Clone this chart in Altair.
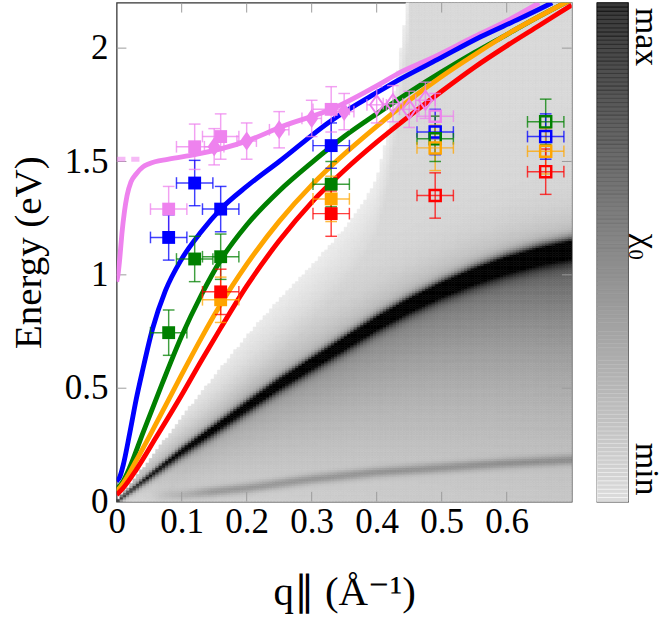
import altair as alt
import numpy as np
import pandas as pd

FONT = "Liberation Serif"
SERIES = ["violet", "blue", "green", "orange", "red"]
HEX = ["#EE82EE", "#0000FF", "#008000", "#FFA500", "#FF0000"]

# ---------------- dispersion curves (q in 1/A, E in eV) ----------------
violet_q = [0, 0.002, 0.005, 0.008, 0.012, 0.016, 0.022, 0.03, 0.04, 0.05, 0.08, 0.12, 0.2, 0.255, 0.33, 0.404, 0.434, 0.48, 0.55, 0.6, 0.65]
violet_E = [0.97, 1.0, 1.08, 1.18, 1.28, 1.35, 1.41, 1.445, 1.475, 1.49, 1.51, 1.53, 1.59, 1.655, 1.73, 1.84, 1.89, 1.95, 2.05, 2.12, 2.2]
blue_q = [0, 0.005, 0.01, 0.02, 0.03, 0.04, 0.055, 0.075, 0.1, 0.13, 0.16, 0.2, 0.25, 0.33, 0.404, 0.434, 0.494, 0.56, 0.62, 0.67]
blue_E = [0.09, 0.11, 0.16, 0.3, 0.45, 0.58, 0.76, 0.93, 1.07, 1.19, 1.29, 1.39, 1.5, 1.68, 1.81, 1.86, 1.95, 2.05, 2.13, 2.2]
green_q = [0, 0.01, 0.02, 0.04, 0.07, 0.1, 0.13, 0.16, 0.2, 0.25, 0.3, 0.35, 0.4, 0.45, 0.5, 0.55, 0.6, 0.65, 0.7]
green_E = [0.055, 0.09, 0.15, 0.3, 0.52, 0.73, 0.91, 1.065, 1.22, 1.37, 1.495, 1.61, 1.71, 1.805, 1.895, 1.98, 2.06, 2.14, 2.215]
orange_q = [0, 0.01, 0.03, 0.06, 0.1, 0.13, 0.16, 0.2, 0.25, 0.3, 0.33, 0.4, 0.45, 0.5, 0.55, 0.6, 0.65, 0.7]
orange_E = [0.045, 0.08, 0.18, 0.34, 0.56, 0.72, 0.87, 1.046, 1.236, 1.396, 1.48, 1.655, 1.77, 1.875, 1.97, 2.06, 2.14, 2.215]
red_q = [0, 0.01, 0.03, 0.06, 0.1, 0.13, 0.16, 0.2, 0.25, 0.3, 0.35, 0.4, 0.45, 0.5, 0.55, 0.6, 0.65, 0.7]
red_E = [0.03, 0.06, 0.14, 0.28, 0.47, 0.62, 0.765, 0.95, 1.15, 1.32, 1.46, 1.585, 1.70, 1.81, 1.915, 2.01, 2.1, 2.19]
violet_dash_q = [0.0, 0.035]
violet_dash_E = [1.51, 1.51]

# ---------------- measured points ----------------
sq_q = [0.08, 0.08, 0.08, 0.12, 0.12, 0.12, 0.16, 0.16, 0.16, 0.16, 0.16, 0.33, 0.33, 0.33, 0.33, 0.33]
sq_E = [1.29, 1.165, 0.745, 1.565, 1.405, 1.07, 1.61, 1.29, 1.08, 0.89, 0.925, 1.73, 1.57, 1.40, 1.335, 1.27]
sq_c = ["violet", "blue", "green", "violet", "blue", "green", "violet", "blue", "green", "orange", "red",
        "violet", "blue", "green", "orange", "red"]
osq_q = [0.49, 0.49, 0.49, 0.49, 0.49, 0.66, 0.66, 0.66, 0.66]
osq_E = [1.70, 1.63, 1.60, 1.56, 1.35, 1.675, 1.61, 1.545, 1.455]
osq_c = ["violet", "blue", "green", "orange", "red", "green", "blue", "orange", "red"]
sq_err_q = 0.028
sq_err_E = 0.1
dia_q = [0.15, 0.2, 0.25, 0.3, 0.35]
dia_E = [1.565, 1.59, 1.64, 1.69, 1.72]
odia_q = [0.40, 0.425, 0.45, 0.475]
odia_E = [1.75, 1.755, 1.73, 1.77]
dia_err_q = 0.015
dia_err_E = 0.08

# ---------------- chi_0 map features ----------------
ridge_q = [0, 0.05, 0.1, 0.15, 0.2, 0.25, 0.3, 0.35, 0.4, 0.45, 0.5, 0.55, 0.6, 0.65, 0.7]
ridge_E = [0, 0.11, 0.22, 0.32, 0.42, 0.52, 0.61, 0.70, 0.79, 0.87, 0.94, 1.00, 1.05, 1.09, 1.12]
ridge_w = [0.012, 0.022, 0.03, 0.034, 0.037, 0.04, 0.042, 0.044, 0.046, 0.048, 0.05, 0.053, 0.056, 0.058, 0.06]
ridge_amp = [0.3, 0.42, 0.5, 0.56, 0.6, 0.63, 0.66, 0.68, 0.68, 0.68, 0.66, 0.63, 0.6, 0.56, 0.52]
edge_q = [0, 0.05, 0.1, 0.15, 0.2, 0.25, 0.3, 0.35, 0.38, 0.4, 0.415, 0.43, 0.44, 0.45]
edge_E = [0, 0.18, 0.37, 0.55, 0.73, 0.89, 1.04, 1.2, 1.32, 1.42, 1.6, 1.85, 2.05, 2.25]
band_q = [0.1, 0.2, 0.3, 0.4, 0.5, 0.6, 0.7]
band_E = [0.03, 0.06, 0.1, 0.13, 0.15, 0.17, 0.185]

x_ticks = [0, 0.1, 0.2, 0.3, 0.4, 0.5, 0.6]
y_ticks = [0, 0.5, 1, 1.5, 2]
X_MAX, Y_MAX = 0.7, 2.2

# build map cells
dq, dE = 0.005, 0.01
cells = []
for i in range(int(round(X_MAX / dq))):
    q0 = i * dq
    qc = q0 + dq / 2
    Ee = float(np.interp(qc, edge_q, edge_E, right=99.0))
    r = float(np.interp(qc, ridge_q, ridge_E))
    s = float(np.interp(qc, ridge_q, ridge_w))
    A = float(np.interp(qc, ridge_q, ridge_amp))
    T = 0.14 + 0.6 * qc
    L = 0.45 * r + 0.04
    bE = float(np.interp(qc, band_q, band_E))
    bA = 0.2 * min(max((qc - 0.05) / 0.1, 0), 1)
    for j in range(int(round(Y_MAX / dE))):
        e0 = j * dE
        ec = e0 + dE / 2
        if ec > Ee:
            continue
        base = 0.07 + 0.08 * min(max((Ee - ec) / 0.25, 0), 1)
        d = ec - r
        if d >= 0:
            rid = A * np.exp(-(d / (0.75 * s)) ** 2) + 0.25 * np.exp(-d / 0.1) + T * np.exp(-(d / (0.6 * s)) ** 2)
        else:
            rid = A * np.exp(-(d / s) ** 2) + T * np.exp(d / L) + 0.25 * np.exp(d / (0.6 * s))
        band = bA * np.exp(-((ec - bE) / 0.022) ** 2)
        D = min(max(base + rid + band, 0), 1)
        cells.append((round(q0, 4), round(q0 + dq, 4), round(e0, 3), round(e0 + dE, 3), round(float(D), 3)))
heat_df = pd.DataFrame(cells, columns=["q0", "q1", "e0", "e1", "d"])

# ---------------- encodings ----------------
xs = alt.Scale(domain=[0, X_MAX], nice=False, zero=False)
ys = alt.Scale(domain=[0, Y_MAX], nice=False, zero=False)
XT = "q∥ (Å⁻¹)"
YT = "Energy (eV)"
xaxis = alt.Axis(values=x_ticks, format="~g", ticks=False, domain=False, grid=False, labelFlush=False,
                 labelFont=FONT, labelFontSize=36, labelColor="#000", labelPadding=4,
                 titleFont=FONT, titleFontSize=42, titleFontWeight="normal", titleColor="#000", titlePadding=34)
yaxis = alt.Axis(values=y_ticks, format="~g", ticks=False, domain=False, grid=False, labelFlush=False,
                 labelFont=FONT, labelFontSize=36, labelColor="#000", labelPadding=9,
                 titleFont=FONT, titleFontSize=40, titleFontWeight="normal", titleColor="#000", titlePadding=16)


def X(f):
    return alt.X(f, type="quantitative", scale=xs, axis=xaxis, title=XT)


def Y(f):
    return alt.Y(f, type="quantitative", scale=ys, axis=yaxis, title=YT)


cscale = alt.Scale(domain=SERIES, range=HEX)
gray = alt.Scale(domain=[0, 1], range=["#ffffff", "#000000"], interpolate="rgb")

heat = alt.Chart(heat_df).mark_rect(strokeWidth=0.6).encode(
    x=X("q0"), x2="q1", y=Y("e0"), y2="e1",
    color=alt.Color("d:Q", scale=gray, legend=None),
    stroke=alt.Stroke("d:Q", scale=gray, legend=None),
)

# inward ticks (pgfplots style)
tl_q = 10 / 668
tl_E = 10 / 232.5
tick_rows = []
for v in x_ticks[1:]:
    tick_rows.append((v, v, 0, tl_E))
    tick_rows.append((v, v, Y_MAX, Y_MAX - tl_E))
for v in y_ticks[1:]:
    tick_rows.append((0, tl_q, v, v))
    tick_rows.append((X_MAX, X_MAX - tl_q, v, v))
tick_df = pd.DataFrame(tick_rows, columns=["qa", "qb", "ea", "eb"])
ticks = alt.Chart(tick_df).mark_rule(color="#9a9a9a", strokeWidth=1).encode(
    x=X("qa"), x2="qb", y=Y("ea"), y2="eb")


def curve(qv, ev, col, **kw):
    df = pd.DataFrame({"q": qv, "E": ev})
    return alt.Chart(df).mark_line(color=col, strokeWidth=5, clip=True, interpolate="monotone", **kw).encode(
        x=X("q"), y=Y("E"), order="q:Q")


dash = curve(violet_dash_q, violet_dash_E, "#EE82EE", strokeDash=[9, 6], opacity=0.55)
c_violet = curve(violet_q, violet_E, "#EE82EE")
c_blue = curve(blue_q, blue_E, "#0000FF")
c_green = curve(green_q, green_E, "#008000")
c_orange = curve(orange_q, orange_E, "#FFA500")
c_red = curve(red_q, red_E, "#FF0000")

pts = pd.concat([
    pd.DataFrame({"q": sq_q, "E": sq_E, "c": sq_c, "kind": "sq", "eq": sq_err_q, "eE": sq_err_E}),
    pd.DataFrame({"q": osq_q, "E": osq_E, "c": osq_c, "kind": "osq", "eq": sq_err_q, "eE": sq_err_E}),
    pd.DataFrame({"q": dia_q, "E": dia_E, "c": "violet", "kind": "dia", "eq": dia_err_q, "eE": dia_err_E}),
    pd.DataFrame({"q": odia_q, "E": odia_E, "c": "violet", "kind": "odia", "eq": dia_err_q, "eE": dia_err_E}),
], ignore_index=True)
pts["qlo"] = pts["q"] - pts["eq"]
pts["qhi"] = pts["q"] + pts["eq"]
pts["Elo"] = pts["E"] - pts["eE"]
pts["Ehi"] = pts["E"] + pts["eE"]

base_pts = alt.Chart(pts)
col = alt.Color("c:N", scale=cscale, legend=None)
ebar_v = base_pts.mark_rule(strokeWidth=1.5, opacity=0.75).encode(x=X("q"), y=Y("Elo"), y2="Ehi", color=col)
ebar_h = base_pts.mark_rule(strokeWidth=1.5, opacity=0.75).encode(x=X("qlo"), x2="qhi", y=Y("E"), color=col)
cap_lo = base_pts.mark_tick(orient="horizontal", size=12, thickness=1.5, opacity=0.75).encode(x=X("q"), y=Y("Elo"), color=col)
cap_hi = base_pts.mark_tick(orient="horizontal", size=12, thickness=1.5, opacity=0.75).encode(x=X("q"), y=Y("Ehi"), color=col)
cap_l = base_pts.mark_tick(orient="vertical", size=12, thickness=1.5, opacity=0.75).encode(x=X("qlo"), y=Y("E"), color=col)
cap_r = base_pts.mark_tick(orient="vertical", size=12, thickness=1.5, opacity=0.75).encode(x=X("qhi"), y=Y("E"), color=col)

DIAMOND = "M0,-1L0.7,0L0,1L-0.7,0Z"
m_sq = base_pts.transform_filter(alt.datum.kind == "sq").mark_point(
    shape="square", filled=True, size=175, opacity=1).encode(x=X("q"), y=Y("E"), color=col)
m_osq = base_pts.transform_filter(alt.datum.kind == "osq").mark_point(
    shape="square", filled=False, size=130, strokeWidth=2.5, opacity=1).encode(x=X("q"), y=Y("E"), color=col)
m_dia = base_pts.transform_filter(alt.datum.kind == "dia").mark_point(
    shape=DIAMOND, filled=True, size=380, opacity=1).encode(x=X("q"), y=Y("E"), color=col)
m_odia = base_pts.transform_filter(alt.datum.kind == "odia").mark_point(
    shape=DIAMOND, filled=False, size=380, strokeWidth=2, opacity=1).encode(x=X("q"), y=Y("E"), color=col)

main = alt.layer(
    heat, ticks, dash, c_violet, c_blue, c_green, c_orange, c_red,
    ebar_v, ebar_h, cap_lo, cap_hi, cap_l, cap_r, m_dia, m_odia, m_sq, m_osq
).properties(width=468, height=513)

# ---------------- colour bar ----------------
cb_levels = np.linspace(0, 1, 121)
cb_df = pd.DataFrame({"v0": cb_levels[:-1], "v1": cb_levels[1:], "v": (cb_levels[:-1] + cb_levels[1:]) / 2})
cb_scale = alt.Scale(domain=[0, 1], range=["#dcdcdc", "#383838"], interpolate="rgb")
cbx = alt.Scale(domain=[0, 1], nice=False, zero=False)
cby = alt.Scale(domain=[0, 1], nice=False, zero=False)
cb_rect = alt.Chart(cb_df).mark_rect(strokeWidth=0.6).encode(
    x=alt.datum(0, scale=cbx, axis=None), x2=alt.datum(1),
    y=alt.Y("v0:Q", scale=cby, axis=None), y2="v1",
    color=alt.Color("v:Q", scale=cb_scale, legend=None),
    stroke=alt.Stroke("v:Q", scale=cb_scale, legend=None),
)
cb_lab_df = pd.DataFrame({"t": ["max", "χ₀", "min"], "y": [0.99, 0.51, 0.012], "x": [1.6, 1.6, 1.6],
                          "al": ["left", "center", "right"]})
cb_texts = []
for t, al in zip(cb_lab_df.t, cb_lab_df.al):
    sub = cb_lab_df[cb_lab_df.t == t]
    cb_texts.append(alt.Chart(sub).mark_text(
        angle=90, align=al, baseline="middle", font=FONT, fontSize=35, color="#000").encode(
        x=alt.X("x:Q", scale=cbx, axis=None), y=alt.Y("y:Q", scale=cby, axis=None), text="t:N"))
cbar = alt.layer(cb_rect, *cb_texts).properties(width=32, height=513)

chart = alt.hconcat(main, cbar, spacing=23).properties(
    padding={"left": 9, "top": -8, "right": 2, "bottom": 0}
).configure_view(stroke="#333333", strokeWidth=1.3)

chart.save("out.html", embed_options={"renderer": "svg", "actions": False})
